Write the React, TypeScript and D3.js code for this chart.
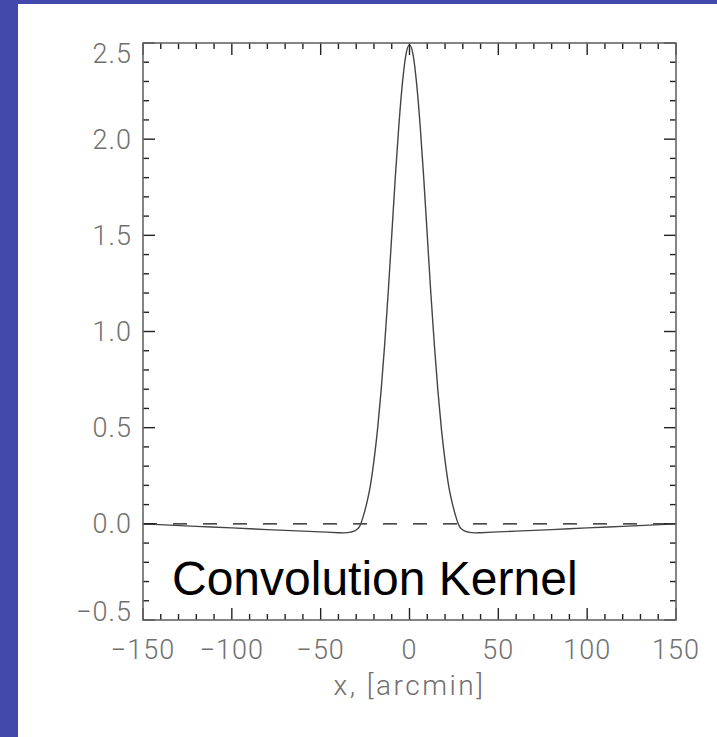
import React from "react";
import * as d3 from "d3";

// kernel profile (arcmin, amplitude)
const xs = [-150, -120, -100, -80, -60, -50, -40, -37, -33, -30, -28, -26, -24, -22, -20, -18, -16, -14, -12, -10, -8, -6, -4, -2, 0,
  2, 4, 6, 8, 10, 12, 14, 16, 18, 20, 22, 24, 26, 28, 30, 33, 37, 40, 50, 60, 80, 100, 120, 150];
const ys = [0.0, -0.013, -0.021, -0.03, -0.038, -0.042, -0.046, -0.047, -0.043, -0.032, -0.012, 0.04, 0.11, 0.2, 0.33, 0.49, 0.69, 0.93, 1.2, 1.5, 1.8, 2.07, 2.29, 2.44, 2.49,
  2.44, 2.29, 2.07, 1.8, 1.5, 1.2, 0.93, 0.69, 0.49, 0.33, 0.2, 0.11, 0.04, -0.012, -0.032, -0.043, -0.047, -0.046, -0.042, -0.038, -0.03, -0.021, -0.013, 0.0];

const xDomain = [-150, 150];
const yDomain = [-0.5, 2.5];
const xTitle = "x, [arcmin]";
const annotation = "Convolution Kernel";

const W = 717;
const H = 737;
const m = { left: 143, right: 676, top: 43, bottom: 620 };

export default function App() {
  const x = d3.scaleLinear().domain(xDomain).range([m.left, m.right]);
  const y = d3.scaleLinear().domain(yDomain).range([m.bottom, m.top]);

  const pts = xs.map((v, i) => [v, ys[i]] as [number, number]);
  const line = d3
    .line<[number, number]>()
    .x((d) => x(d[0]))
    .y((d) => y(d[1]))
    .curve(d3.curveMonotoneX);

  const xMajor = x.ticks(6);
  const xMinor = x.ticks(30);
  const yMajor = y.ticks(6);
  const yMinor = y.ticks(30);

  const labelFont = { fontFamily: "Roboto, 'Liberation Sans', sans-serif", fontWeight: 300, fontSize: 27, fill: "#707070" };
  const fmt = (v: number, d: number) => (v < 0 ? "\u2212" : "") + Math.abs(v).toFixed(d);
  const tickStroke = "#222";

  return (
    <svg width={W} height={H} style={{ position: "absolute", left: 0, top: 0, background: "#fff" }}>
      <rect x={0} y={0} width={W} height={4} fill="#4349ab" />
      <rect x={0} y={0} width={18} height={H} fill="#4349ab" />

      {/* zero reference */}
      <line x1={x(xDomain[0])} x2={x(xDomain[1])} y1={y(0)} y2={y(0)} stroke="#111" strokeWidth={1.3} strokeDasharray="14,16" />

      <path d={line(pts) ?? ""} fill="none" stroke="#444" strokeWidth={1.4} />

      {/* ticks on all four sides */}
      {xMinor.map((t) => {
        const len = xMajor.includes(t) ? 12 : 6;
        return (
          <g key={"xt" + t} stroke={tickStroke} strokeWidth={1.4}>
            <line x1={x(t)} x2={x(t)} y1={m.bottom} y2={m.bottom - len} />
            <line x1={x(t)} x2={x(t)} y1={m.top} y2={m.top + len} />
          </g>
        );
      })}
      {yMinor.map((t) => {
        const len = yMajor.some((v) => Math.abs(v - t) < 1e-9) ? 12 : 6;
        return (
          <g key={"yt" + t} stroke={tickStroke} strokeWidth={1.4}>
            <line x1={m.left} x2={m.left + len} y1={y(t)} y2={y(t)} />
            <line x1={m.right} x2={m.right - len} y1={y(t)} y2={y(t)} />
          </g>
        );
      })}

      <rect x={m.left} y={m.top} width={m.right - m.left} height={m.bottom - m.top} fill="none" stroke="#666" strokeWidth={1.6} />

      {xMajor.map((t) => (
        <text key={"xl" + t} x={x(t)} y={m.bottom + 39} textAnchor="middle" letterSpacing={1} {...labelFont}>
          {fmt(t, 0)}
        </text>
      ))}
      {yMajor.map((t) => (
        <text
          key={"yl" + t}
          x={m.left - 11}
          y={Math.min(Math.max(y(t) + 9.5, m.top + 19.5), m.bottom + 1)}
          textAnchor="end"
          letterSpacing={1}
          {...labelFont}
        >
          {fmt(t, 1)}
        </text>
      ))}

      <text x={(m.left + m.right) / 2} y={695} textAnchor="middle" {...labelFont} fontSize={28} letterSpacing={2.5}>
        {xTitle}
      </text>

      <text x={172} y={595} fontFamily="'Liberation Sans', Arial, sans-serif" fontSize={48} fill="#000">
        {annotation}
      </text>
    </svg>
  );
}
